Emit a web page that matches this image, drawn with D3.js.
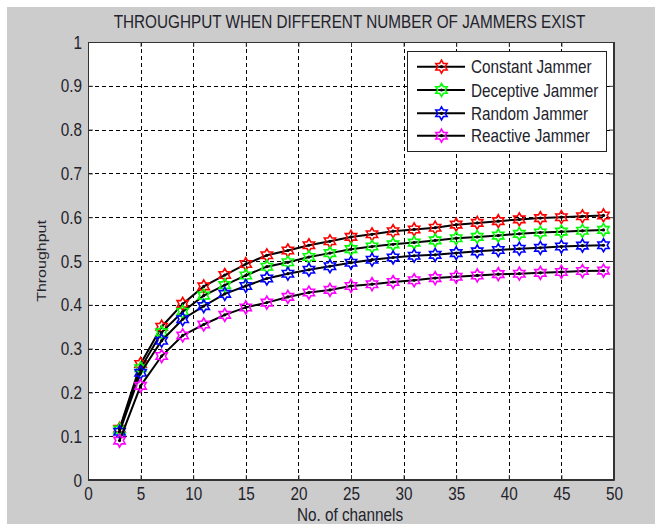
<!DOCTYPE html>
<html><head><meta charset="utf-8">
<script src="https://cdn.jsdelivr.net/npm/d3@7"></script>
<style>body{margin:0;background:#fff}svg{display:block}</style>
</head><body>
<svg id="c" width="655" height="524"></svg>
<script>
const channels = [3,5,7,9,11,13,15,17,19,21,23,25,27,29,31,33,35,37,39,41,43,45,47,49];
const constantJammer  = [0.117,0.265,0.350,0.402,0.442,0.468,0.493,0.513,0.524,0.536,0.545,0.555,0.561,0.568,0.572,0.576,0.583,0.587,0.591,0.595,0.598,0.600,0.602,0.604];
const deceptiveJammer = [0.115,0.255,0.337,0.384,0.421,0.445,0.467,0.487,0.497,0.509,0.518,0.527,0.533,0.538,0.542,0.547,0.552,0.555,0.558,0.562,0.565,0.567,0.569,0.571];
const randomJammer    = [0.110,0.245,0.318,0.367,0.397,0.425,0.443,0.460,0.471,0.480,0.488,0.496,0.503,0.508,0.512,0.514,0.518,0.522,0.525,0.528,0.530,0.533,0.535,0.536];
const reactiveJammer  = [0.090,0.215,0.283,0.330,0.355,0.377,0.394,0.405,0.418,0.428,0.434,0.443,0.447,0.452,0.456,0.461,0.464,0.467,0.470,0.471,0.473,0.475,0.477,0.478];
const seriesNames  = ["Constant Jammer","Deceptive Jammer","Random Jammer","Reactive Jammer"];
const seriesColors = ["#ff0000","#00ff00","#0000ff","#ff00ff"];
const xTicks = [0,5,10,15,20,25,30,35,40,45,50];
const yTicks = [0,0.1,0.2,0.3,0.4,0.5,0.6,0.7,0.8,0.9,1];
const yTickLabels = ["0","0.1","0.2","0.3","0.4","0.5","0.6","0.7","0.8","0.9","1"];
const titleText = "THROUGHPUT WHEN DIFFERENT NUMBER OF JAMMERS EXIST";
const xLabel = "No. of channels";
const yLabel = "Throughput";

const allSeries = [constantJammer, deceptiveJammer, randomJammer, reactiveJammer];
const svg = d3.select("#c");
const L = 88, R = 614, T = 42, B = 480;
const SQ = 0.85, FS = 18, TXT = "#23232b";
const x = d3.scaleLinear().domain([0,50]).range([L,R]);
const y = d3.scaleLinear().domain([0,1]).range([B,T]);

svg.append("rect").attr("x",7).attr("y",7).attr("width",648).attr("height",517).attr("fill","#cccccc");
svg.append("rect").attr("x",L).attr("y",T).attr("width",R-L).attr("height",B-T).attr("fill","#fff");

// grid
const grid = svg.append("g").attr("stroke","#000").attr("stroke-width",1).attr("stroke-dasharray","4,3");
grid.selectAll(".gx").data(xTicks.slice(1,-1)).join("line")
  .attr("x1",d=>Math.round(x(d))+0.5).attr("x2",d=>Math.round(x(d))+0.5).attr("y1",T).attr("y2",B);
grid.selectAll(".gy").data(yTicks.slice(1,-1)).join("line")
  .attr("y1",d=>Math.round(y(d))+0.5).attr("y2",d=>Math.round(y(d))+0.5).attr("x1",L).attr("x2",R);

// axes
const fmt = d => yTickLabels[yTicks.indexOf(d)];
const gL = svg.append("g").attr("transform",`translate(${L},0)`)
  .call(d3.axisLeft(y).tickValues(yTicks).tickFormat(fmt).tickSizeInner(-5).tickSizeOuter(0));
const gB = svg.append("g").attr("transform",`translate(0,${B})`)
  .call(d3.axisBottom(x).tickValues(xTicks).tickSizeInner(-5).tickSizeOuter(0));
const gT = svg.append("g").attr("transform",`translate(0,${T})`)
  .call(d3.axisTop(x).tickValues(xTicks).tickFormat("").tickSizeInner(-5).tickSizeOuter(0));
const gR = svg.append("g").attr("transform",`translate(${R},0)`)
  .call(d3.axisRight(y).tickValues(yTicks).tickFormat("").tickSizeInner(-5).tickSizeOuter(0));
[gL,gB,gT,gR].forEach(g=>{
  g.selectAll("path,line").attr("stroke","#333").attr("stroke-width",1);
  g.selectAll("text").attr("font-family","Arial, 'Liberation Sans', sans-serif").attr("font-size",FS).attr("fill",TXT);
});
gL.selectAll(".tick text").attr("x",0).attr("dy","0.34em").attr("transform",`translate(-6,0) scale(${SQ},1)`);
gB.selectAll(".tick text").attr("y",0).attr("dy","0.71em").attr("transform",`translate(0,7) scale(${SQ},1)`);

// series
const line = d3.line().x((d,i)=>x(channels[i])).y(d=>y(d));
function hexagram(r){
  const pts=[];const ri=r/Math.sqrt(3);
  for(let k=0;k<12;k++){const a=-Math.PI/2+k*Math.PI/6;const rr=k%2===0?r:ri;pts.push([rr*Math.cos(a),rr*Math.sin(a)]);}
  return "M"+pts.map(p=>p[0].toFixed(2)+","+p[1].toFixed(2)).join("L")+"Z";
}
const hex = hexagram(6.5);
allSeries.forEach((s,si)=>{
  svg.append("path").datum(s).attr("d",line).attr("fill","none").attr("stroke","#000").attr("stroke-width",2);
  const g = svg.append("g");
  g.selectAll("path").data(s).join("path").attr("d",hex)
    .attr("transform",(d,i)=>`translate(${x(channels[i])},${y(d)})`)
    .attr("fill","none").attr("stroke",seriesColors[si]).attr("stroke-width",1.6);
  g.selectAll("circle").data(s).join("circle").attr("cx",(d,i)=>x(channels[i])).attr("cy",d=>y(d)).attr("r",1.6).attr("fill","#000");
});

// frame on top
svg.append("rect").attr("x",L+0.5).attr("y",T+0.5).attr("width",R-L-1).attr("height",B-T-1).attr("fill","none").attr("stroke","#333");

// legend
const lg = svg.append("g");
lg.append("rect").attr("x",407.5).attr("y",51.5).attr("width",199).attr("height",100).attr("fill","#fff").attr("stroke","#222").attr("stroke-width",1);
const rowY = [66.7,90,113.3,135.7];
seriesNames.forEach((n,i)=>{
  lg.append("line").attr("x1",417).attr("x2",465).attr("y1",rowY[i]).attr("y2",rowY[i]).attr("stroke","#000").attr("stroke-width",2);
  lg.append("path").attr("d",hex).attr("transform",`translate(441.5,${rowY[i]})`).attr("fill","none").attr("stroke",seriesColors[i]).attr("stroke-width",1.6);
  lg.append("circle").attr("cx",441.5).attr("cy",rowY[i]).attr("r",1.6).attr("fill","#000");
  lg.append("text").text(n).attr("transform",`translate(471,${rowY[i]+6.5}) scale(${SQ},1)`)
    .attr("font-family","Arial, 'Liberation Sans', sans-serif").attr("font-size",FS).attr("fill",TXT);
});

// title and labels
svg.append("text").text(titleText).attr("transform",`translate(349.5,28) scale(${SQ},1)`).attr("text-anchor","middle")
  .attr("font-family","Arial, 'Liberation Sans', sans-serif").attr("font-size",FS).attr("fill",TXT);
svg.append("text").text(xLabel).attr("transform",`translate(350,521) scale(${SQ},1)`).attr("text-anchor","middle")
  .attr("font-family","Arial, 'Liberation Sans', sans-serif").attr("font-size",FS).attr("fill",TXT);
svg.append("text").text(yLabel).attr("transform",`translate(46,261) rotate(-90) scale(1,${SQ})`).attr("text-anchor","middle")
  .attr("font-family","Arial, 'Liberation Sans', sans-serif").attr("font-size",16).attr("fill",TXT);
</script>
</body></html>
